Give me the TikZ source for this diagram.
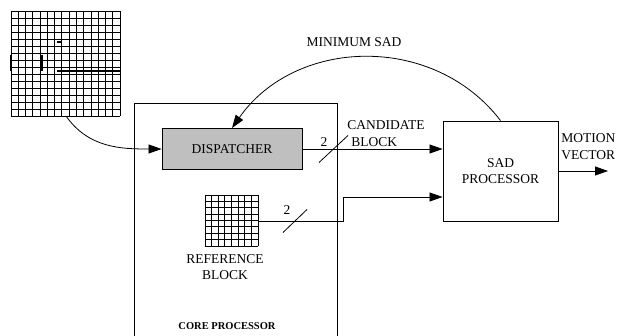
\documentclass[tikz,border=0pt]{standalone}
\usepackage{fontspec}
\setmainfont{Liberation Serif}
\newfontfamily\figfont{Liberation Serif}
\usetikzlibrary{arrows.meta}

\tikzset{
  arr/.style={-{Triangle[length=13pt,width=9pt]}},
  txt/.style={font=\figfont\fontsize{13.5}{16.5}\selectfont, inner sep=0pt, align=center},
  blk/.style={draw, line width=0.9pt, inner sep=0pt},
}

\begin{document}
\begin{tikzpicture}[x=1pt, y=1pt, line width=0.8pt]
        \useasboundingbox (0,0) rectangle (619,336);
        % search area
        \foreach \i in {0,...,15} \draw[line width=0.9pt] ({11+\i*7.27},325) -- ({11+\i*7.27},220);
        \foreach \j in {0,...,15} \draw[line width=0.9pt] (11,{325-\j*7}) -- (120,{325-\j*7});
        \draw[line width=2pt] (11,281) -- (11,265);
        \draw[line width=2pt] (42,281) -- (42,265);
        \draw[line width=2pt] (57,265) -- (120,265);
        \draw[line width=1.5pt] (57,294) -- (61,294);
        \coordinate (win) at (66,220);
        % core processor
        \draw (134,-4) -- (134,233) -- (337,233) -- (337,-4);
        \node[font=\figfont\fontsize{10.5}{12}\selectfont\bfseries, inner sep=0pt] (core) at (227,10) {CORE PROCESSOR};
        \node[blk, txt, fill=gray!50, minimum width=140pt, minimum height=41pt] (disp) at (232,187) {DISPATCHER};
        \node[blk, txt, minimum width=115pt, minimum height=100pt] (sad) at (500.5,165) {SAD\\PROCESSOR};
        % reference block
        \foreach \i in {0,...,8} \draw[line width=0.9pt] ({205+\i*6.625},141) -- ({205+\i*6.625},90);
        \foreach \j in {0,...,8} \draw[line width=0.9pt] (205,{141-\j*6.375}) -- (258,{141-\j*6.375});
        \coordinate (ref) at (258,115);
        \node[txt] (reflbl) at (225,69) {REFERENCE\\BLOCK};
        % connections
        \draw[arr] (win) to[out=-55, in=180] (disp.west);
        \draw[arr] (sad.north) to[out=127.5, in=55, looseness=1.05] (disp.north);
        \node[txt] (minsad) at (354,294) {MINIMUM SAD};
        \draw[arr] (disp.east) -- (disp.east -| sad.west);
        \coordinate (bus1) at (333.5,187);
        \draw (bus1) ++(-14.5,-13.5) -- ++(29,27);
        \node[txt] (two1) at (324,194) {2};
        \node[txt, anchor=west, align=left] (cand) at (347,202.5) {CANDIDATE\\\hspace{4pt}BLOCK};
        \coordinate (bend) at (343,115);
        \draw[arr] (ref) -- (bend) -- (343,139) -- (sad.west |- 0,139);
        \coordinate (bus2) at (295,115);
        \draw (bus2) ++(-12,-11.5) -- ++(24,23);
        \node[txt] (two2) at (287,126) {2};
        \draw[arr] (sad.east) -- (608,165);
        \node[txt, anchor=west, align=left] (mv) at (561,189.5) {MOTION\\VECTOR};
\end{tikzpicture}
\end{document}
